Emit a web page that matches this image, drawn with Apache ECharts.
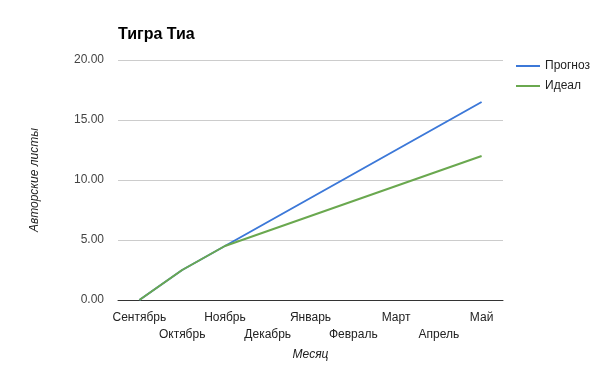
<!DOCTYPE html>
<html><head><meta charset="utf-8">
<script src="https://cdn.jsdelivr.net/npm/echarts@6/dist/echarts.min.js"></script>
<style>html,body{margin:0;padding:0;background:#fff}#c{width:605px;height:366px}</style>
</head><body><div id="c"></div>
<script>
const categories = ['Сентябрь','Октябрь','Ноябрь','Декабрь','Январь','Февраль','Март','Апрель','Май'];
const forecast = [0, 2.5, 4.5, 6.5, 8.5, 10.5, 12.5, 14.5, 16.5];
const ideal = [0, 2.5, 4.5, 5.75, 7, 8.25, 9.5, 10.75, 12];
const seriesNames = ['Прогноз','Идеал'];
const titleText = 'Тигра Тиа';
const xName = 'Месяц';
const yName = 'Авторские листы';

const font = 'Arial, "Liberation Sans", sans-serif';
const chart = echarts.init(document.getElementById('c'));
chart.setOption({
  animation: false,
  title: { text: titleText, left: 113, top: 22, textStyle: { fontFamily: font, fontSize: 16, fontWeight: 'bold', color: '#000' } },
  legend: {
    orient: 'vertical', left: 511, top: 55, itemWidth: 24, itemHeight: 2, itemGap: 8,
    icon: 'rect',
    textStyle: { fontFamily: font, fontSize: 12, color: '#222' },
    data: seriesNames
  },
  grid: { left: 118, right: 102, top: 60, bottom: 66, containLabel: false },
  xAxis: {
    type: 'category', data: categories, boundaryGap: true,
    name: xName, nameLocation: 'middle', nameGap: 49,
    nameTextStyle: { fontFamily: font, fontSize: 12, fontStyle: 'italic', color: '#222' },
    axisLine: { lineStyle: { color: '#333', width: 1 } },
    axisTick: { show: false },
    axisLabel: { interval: 0, fontFamily: font, fontSize: 12, color: '#222', margin: 9, lineHeight: 17,
      formatter: (v, i) => (i % 2 ? '\n' + v : v) }
  },
  yAxis: {
    type: 'value', min: 0, max: 20, interval: 5,
    name: yName, nameLocation: 'middle', nameGap: 77, nameRotate: 90,
    nameTextStyle: { fontFamily: font, fontSize: 12, fontStyle: 'italic', color: '#222' },
    axisLine: { show: false }, axisTick: { show: false },
    axisLabel: { fontFamily: font, fontSize: 12, color: '#444', margin: 14, formatter: v => v.toFixed(2) },
    splitLine: { lineStyle: { color: '#ccc' } }
  },
  series: [
    { name: seriesNames[0], type: 'line', data: forecast, showSymbol: false, lineStyle: { width: 2, color: '#3c78d8' }, itemStyle: { color: '#3c78d8' } },
    { name: seriesNames[1], type: 'line', data: ideal, showSymbol: false, lineStyle: { width: 2, color: '#6aa84f' }, itemStyle: { color: '#6aa84f' } }
  ]
});
</script></body></html>
